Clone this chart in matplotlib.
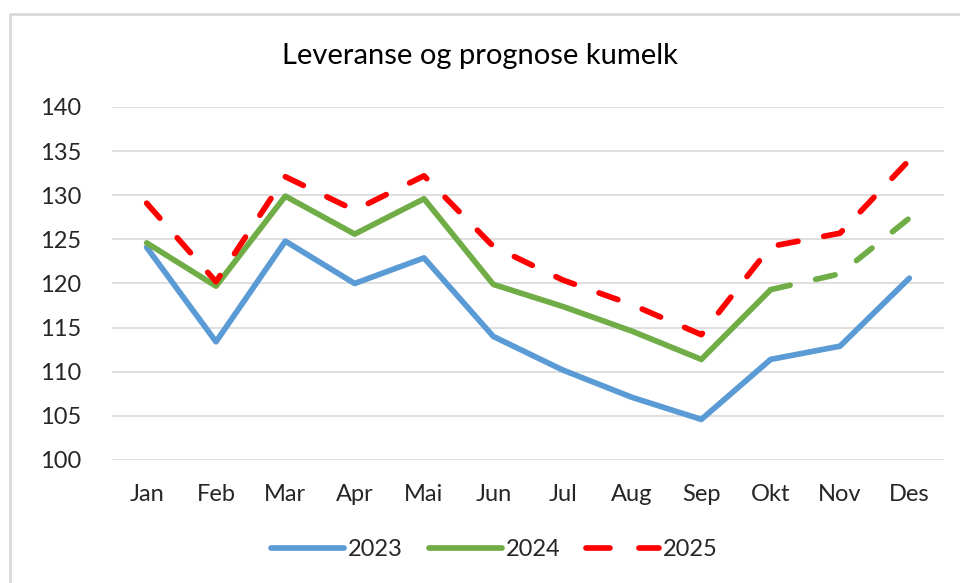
import numpy as np
import matplotlib.pyplot as plt
from matplotlib.lines import Line2D

plt.rcParams['font.family'] = ['Lato', 'DejaVu Sans']

months = ['Jan', 'Feb', 'Mar', 'Apr', 'Mai', 'Jun', 'Jul', 'Aug', 'Sep', 'Okt', 'Nov', 'Des']
v2023 = [124.1, 113.4, 124.8, 120.0, 122.9, 114.0, 110.2, 107.1, 104.6, 111.4, 112.9, 120.6]
v2024 = [124.6, 119.7, 129.9, 125.6, 129.6, 119.9, 117.4, 114.6, 111.4, 119.3, 121.1, 127.4]
v2025 = [129.1, 120.2, 132.1, 128.3, 132.2, 124.2, 120.4, 117.6, 114.2, 124.2, 125.7, 134.0]
n_actual_2024 = 10  # Jan-Okt measured, Nov-Des forecast

blue = '#5B9BD5'
green = '#70AD47'
red = '#FF0000'

fig = plt.figure(figsize=(9.6, 5.83), dpi=100)
ax = fig.add_axes([112/960, 1 - 460/583, 832/960, 353/583])

x = np.arange(len(months))
lw = 4.1
dash = (3.5, 4.6)
ax.plot(x, v2023, color=blue, lw=lw, solid_capstyle='round', solid_joinstyle='round', zorder=3)
ax.plot(x[:n_actual_2024], v2024[:n_actual_2024], color=green, lw=lw,
        solid_capstyle='round', solid_joinstyle='round', zorder=3)
ax.plot(x[n_actual_2024 - 1:], v2024[n_actual_2024 - 1:], color=green, lw=lw,
        dashes=dash, dash_capstyle='round', zorder=3)
ax.plot(x, v2025, color=red, lw=lw, dashes=dash, dash_capstyle='round', zorder=4)

ax.set_xlim(-0.5, len(months) - 0.5)
ax.set_ylim(100, 140)
ax.set_yticks(np.arange(100, 141, 5))
ax.set_xticks(x)
ax.set_xticklabels(months)
ax.grid(axis='y', color='#D9D9D9', lw=1.2)
ax.set_axisbelow(True)
for s in ax.spines.values():
    s.set_visible(False)
ax.tick_params(length=0, labelsize=17, colors='#262626')
ax.tick_params(axis='x', pad=17)
ax.tick_params(axis='y', pad=22)

fig.text(0.5, 1 - 56/583, 'Leveranse og prognose kumelk', ha='center', va='center',
         fontsize=21, color='black')

handles = [Line2D([], [], color=blue, lw=lw, solid_capstyle='round'),
           Line2D([], [], color=green, lw=lw, solid_capstyle='round'),
           Line2D([], [], color=red, lw=lw, dashes=(4.2, 5.1), dash_capstyle='round')]
fig.legend(handles, ['2023', '2024', '2025'], loc='center', bbox_to_anchor=(0.515, 1 - 550/583),
           ncol=3, frameon=False, fontsize=17, handlelength=3.1, handletextpad=0.15,
           columnspacing=1.1, labelcolor='#262626')

border = Line2D([10/960, 10/960, 1.0], [0.0, 1 - 14/583, 1 - 14/583],
                transform=fig.transFigure, color='#D9D9D9', lw=2)
fig.add_artist(border)

fig.savefig('out.png', dpi=100)
